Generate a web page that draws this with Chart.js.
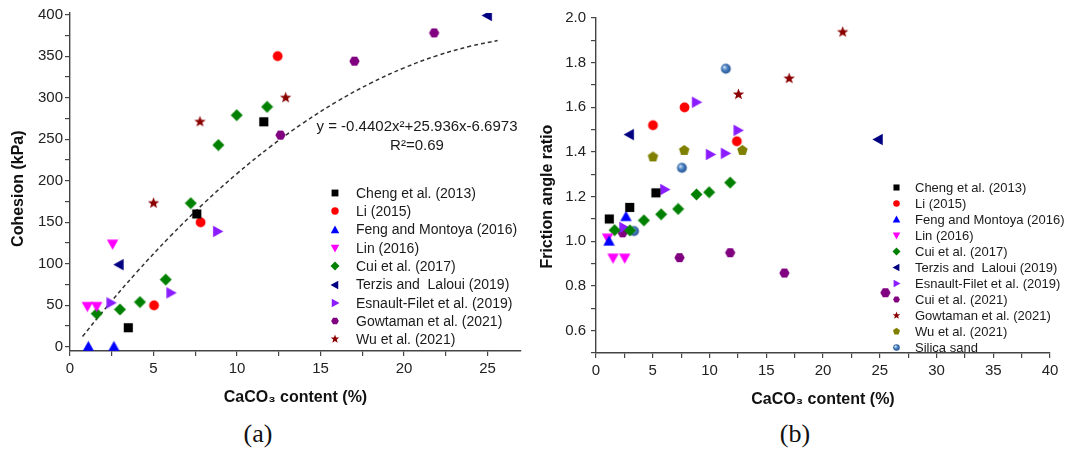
<!DOCTYPE html>
<html lang="en">
<head>
<meta charset="UTF-8">
<title>CaCO3 content vs cohesion and friction angle ratio</title>
<script src="https://cdn.jsdelivr.net/npm/chart.js"></script>
<style>
  body { margin: 0; background: #fff; width: 1067px; height: 456px; overflow: hidden; position: relative; }
  #wrapA { position: absolute; left: 0; top: 0; width: 530px; height: 410px; }
  #wrapB { position: absolute; left: 530px; top: 0; width: 537px; height: 410px; }
  .cap { position: absolute; top: 419px; width: 100px; text-align: center;
         font-family: "Liberation Serif", "Times New Roman", serif; font-size: 26px; color: #111; }
</style>
</head>
<body>
<div id="wrapA"><canvas id="chartA" width="530" height="410"></canvas></div>
<div id="wrapB"><canvas id="chartB" width="537" height="410"></canvas></div>
<div class="cap" style="left:208px">(a)</div>
<div class="cap" style="left:745px">(b)</div>

<script>
// ---- (a) cohesion (kPa) vs CaCO3 content (%) ----
const chengCoh    = [[3.49, 23], [7.59, 160], [11.6, 271]];
const liCoh       = [[5.03, 50], [7.82, 150], [12.43, 350]];
const fengCoh     = [[1.1, 0], [2.63, 0]];
const linCoh      = [[1.04, 49], [1.6, 49], [2.55, 124]];
const cui17Coh    = [[1.6, 40], [2.99, 45], [4.19, 54], [5.73, 81], [7.23, 173], [8.88, 243], [9.98, 279], [11.8, 289]];
const terzisCoh   = [[2.95, 99], [25.0, 399]];
const esnaultCoh  = [[2.44, 53], [6.03, 65], [8.82, 139]];
const gowtamanCoh = [[12.6, 255], [17.03, 344], [21.8, 378]];
const wuCoh       = [[5.0, 173], [7.78, 271], [12.91, 300]];
// dashed trend curve
const fitX = [0.75, 2, 4, 6, 8, 10, 12, 14, 16, 18, 20, 22, 24, 25.6];
const fitY = [12.5, 43.4, 90.0, 133.1, 172.6, 208.6, 241.1, 270.1, 295.6, 317.5, 335.9, 350.8, 362.2, 368.8];

// ---- (b) friction angle ratio vs CaCO3 content (%) ----
const chengFr    = [[1.17, 1.10], [2.97, 1.152], [5.28, 1.217]];
const liFr       = [[5.02, 1.52], [7.8, 1.60], [12.41, 1.448]];
const fengFr     = [[1.15, 1.0], [2.64, 1.11]];
const linFr      = [[1.02, 1.016], [1.5, 0.926], [2.53, 0.926]];
const cui17Fr    = [[1.64, 1.05], [2.99, 1.049], [4.22, 1.094], [5.74, 1.121], [7.24, 1.145], [8.85, 1.21], [9.97, 1.22], [11.82, 1.263]];
const terzisFr   = [[2.96, 1.478], [24.88, 1.456]];
const esnaultFr  = [[2.43, 1.062], [6.04, 1.232], [8.83, 1.623], [10.06, 1.389], [11.38, 1.394], [12.5, 1.497]];
const cui21Fr    = [[2.35, 1.038], [7.36, 0.927], [11.82, 0.949], [16.6, 0.858], [25.5, 0.77]];
const gowtamanFr = [[12.55, 1.658], [17.02, 1.729], [21.74, 1.937]];
const wuFr       = [[5.02, 1.378], [7.77, 1.407], [12.9, 1.407]];
const silicaFr   = [[3.35, 1.046], [7.57, 1.329], [11.44, 1.773]];

const eqLines = ['y = -0.4402x\u00b2+25.936x-6.6973', 'R\u00b2=0.69'];

const seriesA = [
  { label: 'Cheng et al. (2013)', data: chengCoh, shape: 'square', color: '#000000' },
  { label: 'Li (2015)', data: liCoh, shape: 'circle', color: '#ff0000' },
  { label: 'Feng and Montoya (2016)', data: fengCoh, shape: 'triUp', color: '#0000ff' },
  { label: 'Lin (2016)', data: linCoh, shape: 'triDown', color: '#ff00ff' },
  { label: 'Cui et al. (2017)', data: cui17Coh, shape: 'diamond', color: '#008000' },
  { label: 'Terzis and  Laloui (2019)', data: terzisCoh, shape: 'triLeft', color: '#000080' },
  { label: 'Esnault-Filet et al. (2019)', data: esnaultCoh, shape: 'triRight', color: '#8a1cff' },
  { label: 'Gowtaman et al. (2021)', data: gowtamanCoh, shape: 'hexagon', color: '#800080' },
  { label: 'Wu et al. (2021)', data: wuCoh, shape: 'star', color: '#8b0000' }
];
const seriesB = [
  { label: 'Cheng et al. (2013)', data: chengFr, shape: 'square', color: '#000000' },
  { label: 'Li (2015)', data: liFr, shape: 'circle', color: '#ff0000' },
  { label: 'Feng and Montoya (2016)', data: fengFr, shape: 'triUp', color: '#0000ff' },
  { label: 'Lin (2016)', data: linFr, shape: 'triDown', color: '#ff00ff' },
  { label: 'Cui et al. (2017)', data: cui17Fr, shape: 'diamond', color: '#008000' },
  { label: 'Terzis and  Laloui (2019)', data: terzisFr, shape: 'triLeft', color: '#000080' },
  { label: 'Esnault-Filet et al. (2019)', data: esnaultFr, shape: 'triRight', color: '#8a1cff' },
  { label: 'Cui et al. (2021)', data: cui21Fr, shape: 'hexagon', color: '#800080' },
  { label: 'Gowtaman et al. (2021)', data: gowtamanFr, shape: 'star', color: '#8b0000' },
  { label: 'Wu et al. (2021)', data: wuFr, shape: 'pentagon', color: '#808000' },
  { label: 'Silica sand', data: silicaFr, shape: 'sphere', color: '#2f64a8' }
];

// marker pictures, used both on the plot and in the legend
function poly(g, n, r, a0) {
  for (let i = 0; i < n; i++) {
    const a = a0 + i * 2 * Math.PI / n;
    if (i === 0) g.moveTo(r * Math.cos(a), r * Math.sin(a));
    else g.lineTo(r * Math.cos(a), r * Math.sin(a));
  }
  g.closePath();
}
function makeIcon(shape, color, size) {
  const c = document.createElement('canvas');
  c.width = size; c.height = size;
  const g = c.getContext('2d');
  const r = size / 2 - 0.5;
  g.translate(size / 2, size / 2);
  g.fillStyle = color;
  g.beginPath();
  if (shape === 'square') {
    const s = r * 0.76;
    g.rect(-s, -s, 2 * s, 2 * s);
  } else if (shape === 'circle') {
    g.arc(0, 0, r * 0.82, 0, Math.PI * 2);
  } else if (shape === 'sphere') {
    const grad = g.createRadialGradient(-r * 0.3, -r * 0.3, 0.3, 0, 0, r * 0.85);
    grad.addColorStop(0, '#d6e6f7');
    grad.addColorStop(0.45, '#4f86c6');
    grad.addColorStop(1, '#1f4d8c');
    g.fillStyle = grad;
    g.arc(0, 0, r * 0.82, 0, Math.PI * 2);
  } else if (shape.indexOf('tri') === 0) {
    const rot = { triUp: 0, triRight: Math.PI / 2, triDown: Math.PI, triLeft: -Math.PI / 2 }[shape];
    g.rotate(rot);
    g.moveTo(0, -r);
    g.lineTo(r * 0.95, r * 0.72);
    g.lineTo(-r * 0.95, r * 0.72);
    g.closePath();
  } else if (shape === 'diamond') {
    poly(g, 4, r, -Math.PI / 2);
  } else if (shape === 'hexagon') {
    poly(g, 6, r * 0.86, 0);
  } else if (shape === 'pentagon') {
    poly(g, 5, r * 0.92, -Math.PI / 2);
  } else if (shape === 'star') {
    for (let i = 0; i < 10; i++) {
      const a = -Math.PI / 2 + i * Math.PI / 5;
      const rr = i % 2 ? r * 0.42 : r;
      if (i === 0) g.moveTo(rr * Math.cos(a), rr * Math.sin(a));
      else g.lineTo(rr * Math.cos(a), rr * Math.sin(a));
    }
    g.closePath();
  }
  g.fill();
  return c;
}

const fontFamily = '"Liberation Sans", Arial, Helvetica, sans-serif';
const tickFont = { family: fontFamily, size: 15 };
const titleFont = { family: fontFamily, size: 16, weight: 'bold' };

// legend drawn inside the plot, one row per study
const boxLegend = {
  id: 'boxLegend',
  afterDraw(chart, args, opts) {
    const ctx = chart.ctx;
    ctx.save();
    ctx.font = opts.size + 'px ' + fontFamily;
    ctx.fillStyle = '#1a1a1a';
    ctx.textBaseline = 'middle';
    opts.items.forEach((it, i) => {
      const y = opts.y + i * opts.dy;
      ctx.drawImage(it.icon, Math.round(opts.x - it.icon.width / 2), Math.round(y - it.icon.height / 2));
      ctx.fillText(it.label, opts.textX, y + 1);
    });
    ctx.restore();
  }
};

const equation = {
  id: 'equation',
  afterDraw(chart, args, opts) {
    if (!opts.lines) return;
    const ctx = chart.ctx;
    ctx.save();
    ctx.font = '15px ' + fontFamily;
    ctx.fillStyle = '#1a1a1a';
    ctx.textAlign = 'center';
    ctx.textBaseline = 'middle';
    opts.lines.forEach((t, i) => ctx.fillText(t, opts.x, opts.y + i * opts.dy));
    ctx.restore();
  }
};

function axis(o) {
  return {
    type: 'linear',
    min: o.min,
    max: o.max,
    // fixed tick set: every minor step from lo to hi
    afterBuildTicks: s => {
      const t = [];
      for (let k = 0; o.lo + k * o.step <= o.hi + 1e-9; k++) t.push({ value: +(o.lo + k * o.step).toFixed(6) });
      s.ticks = t;
    },
    afterFit: s => { if (o.width) s.width = o.width; if (o.height) s.height = o.height; },
    ticks: {
      stepSize: o.step, autoSkip: false, maxRotation: 0, minRotation: 0,
      font: tickFont, color: '#222', padding: o.pad,
      callback: v => (Math.abs(v / o.every - Math.round(v / o.every)) < 1e-6 ? o.fmt(v) : '')
    },
    grid: { drawOnChartArea: false, drawTicks: true, tickLength: 5, color: '#444', lineWidth: 1.2 },
    border: { display: true, color: '#444', width: 1.4 },
    title: { display: true, text: o.title, font: titleFont, color: '#111', padding: o.titlePad }
  };
}

function buildChart(id, series, extra) {
  const datasets = series.map(s => ({
    type: 'scatter',
    label: s.label,
    data: s.data.map(p => ({ x: p[0], y: p[1] })),
    pointStyle: makeIcon(s.shape, s.color, 13),
    pointRadius: 5,
    order: 0
  }));
  if (extra.fit) datasets.push(extra.fit);
  return new Chart(document.getElementById(id), {
    type: 'scatter',
    data: { datasets: datasets },
    options: {
      responsive: false,
      animation: false,
      layout: { padding: extra.padding },
      plugins: {
        legend: { display: false },
        tooltip: { enabled: false },
        boxLegend: Object.assign({
          items: series.map(s => ({ label: s.label, icon: makeIcon(s.shape, s.color, extra.legendIcon) }))
        }, extra.legend),
        equation: extra.equation || {}
      },
      scales: { x: extra.x, y: extra.y }
    },
    plugins: [boxLegend, equation]
  });
}

const xTitle = 'CaCO\u2083 content (%)';
const pad = n => '\u00a0'.repeat(n);

buildChart('chartA', seriesA, {
  padding: { left: 0, top: 13, right: 9, bottom: 0 },
  legendIcon: 10,
  legend: { x: 335, textX: 356, y: 193, dy: 18.3, size: 14 },
  equation: { lines: eqLines, x: 417, y: 127, dy: 18.5 },
  fit: {
    type: 'line',
    label: 'fit',
    data: fitX.map((x, i) => ({ x: x, y: fitY[i] })),
    borderColor: '#333',
    borderWidth: 1.5,
    borderDash: [4, 3],
    pointRadius: 0,
    fill: false,
    tension: 0.4,
    order: 1
  },
  x: axis({ min: 0, max: 27, lo: 0, hi: 25, step: 2.5, every: 5, fmt: v => String(v), pad: 4,
            height: 59, title: xTitle, titlePad: { top: 0, bottom: 2.4 } }),
  y: axis({ min: -5, max: 402, lo: 0, hi: 400, step: 25, every: 50, fmt: v => String(v), pad: 2,
            width: 70, title: 'Cohesion (kPa)' + pad(3), titlePad: { top: 9.4, bottom: 0 } })
});

buildChart('chartB', seriesB, {
  padding: { left: 0, top: 18, right: 17, bottom: 0 },
  legendIcon: 9,
  legend: { x: 366, textX: 385, y: 187, dy: 16, size: 13 },
  x: axis({ min: 0, max: 40, lo: 0, hi: 40, step: 2.5, every: 5, fmt: v => String(v), pad: 4,
            height: 57, title: xTitle, titlePad: { top: 0, bottom: 0.4 } }),
  y: axis({ min: 0.5, max: 2.0, lo: 0.5, hi: 2.0, step: 0.1, every: 0.2, fmt: v => v.toFixed(1), pad: 5,
            width: 66, title: 'Friction angle ratio' + pad(5), titlePad: { top: 8.4, bottom: 0 } })
});
</script>
</body>
</html>
